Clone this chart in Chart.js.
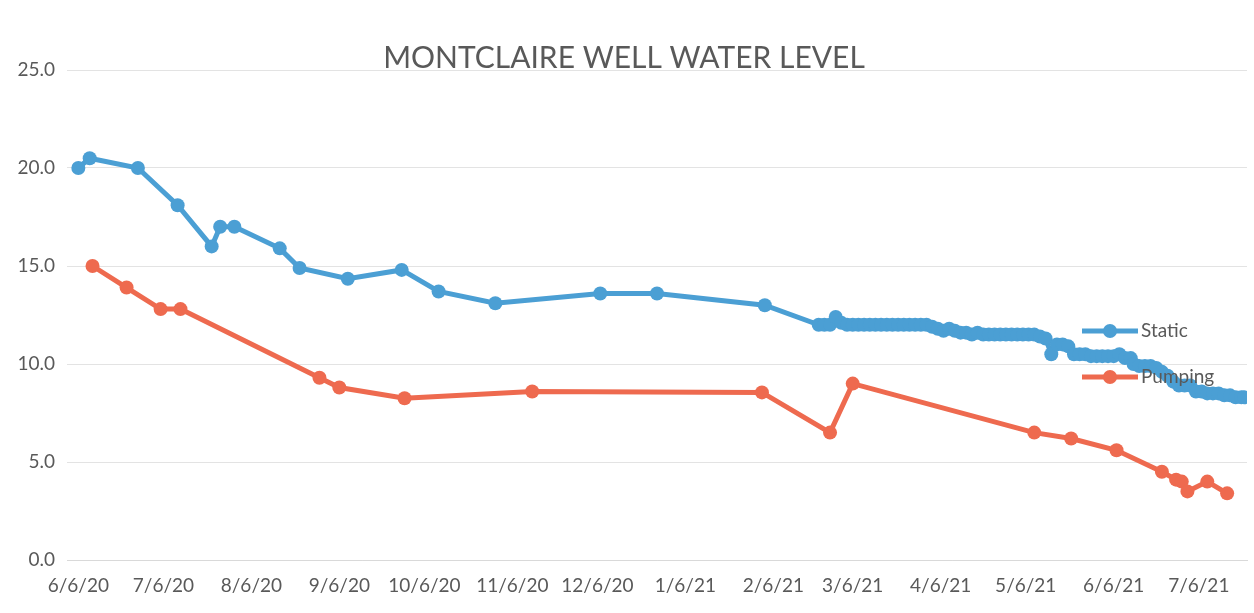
<!DOCTYPE html>
<html>
<head>
<meta charset="utf-8">
<script src="https://cdn.jsdelivr.net/npm/chart.js@4.4.1/dist/chart.umd.min.js"></script>
<style>
  html, body { margin: 0; padding: 0; background: #fff; }
</style>
</head>
<body>
<canvas id="chart" width="1254" height="613"></canvas>
<script>
// readings, dates as m/d/yy
const staticDates = [
  '6/6/20', '6/10/20', '6/27/20', '7/11/20', '7/23/20', '7/26/20', '7/31/20', '8/16/20',
  '8/23/20', '9/9/20', '9/28/20', '10/11/20', '10/31/20', '12/7/20', '12/27/20', '2/3/21',
  '2/22/21', '2/24/21', '2/26/21', '2/28/21', '3/2/21',
  '3/4/21', '3/6/21', '3/8/21', '3/10/21', '3/12/21', '3/14/21', '3/16/21', '3/18/21',
  '3/20/21', '3/22/21', '3/24/21', '3/26/21', '3/28/21', '3/30/21', '4/1/21',
  '4/3/21', '4/5/21', '4/7/21', '4/9/21', '4/11/21', '4/13/21', '4/15/21', '4/17/21', '4/19/21',
  '4/21/21', '4/23/21', '4/25/21', '4/27/21', '4/29/21', '5/1/21', '5/3/21', '5/5/21', '5/7/21', '5/9/21',
  '5/11/21', '5/13/21', '5/15/21', '5/17/21', '5/19/21', '5/21/21', '5/23/21', '5/25/21', '5/27/21',
  '5/29/21', '5/31/21', '6/2/21', '6/4/21', '6/6/21', '6/8/21', '6/10/21', '6/12/21', '6/13/21',
  '6/15/21', '6/17/21', '6/19/21', '6/21/21', '6/23/21', '6/25/21', '6/27/21', '6/29/21', '7/1/21',
  '7/3/21', '7/5/21', '7/7/21', '7/9/21', '7/11/21', '7/13/21', '7/15/21', '7/17/21', '7/19/21',
  '7/21/21', '7/22/21'
];
const staticLevels = [
  20.0, 20.5, 20.0, 18.1, 16.0, 17.0, 17.0, 15.9,
  14.9, 14.35, 14.8, 13.7, 13.1, 13.6, 13.6, 13.0,
  12.0, 12.0, 12.0, 12.4, 12.1,
  12.0, 12.0, 12.0, 12.0, 12.0, 12.0, 12.0, 12.0,
  12.0, 12.0, 12.0, 12.0, 12.0, 12.0, 12.0,
  11.9, 11.8, 11.7, 11.8, 11.7, 11.6, 11.6, 11.5, 11.6,
  11.5, 11.5, 11.5, 11.5, 11.5, 11.5, 11.5, 11.5, 11.5, 11.5,
  11.4, 11.3, 10.5, 11.0, 11.0, 10.9, 10.5, 10.5, 10.5,
  10.4, 10.4, 10.4, 10.4, 10.4, 10.5, 10.3, 10.3, 10.0,
  9.9, 9.9, 9.9, 9.8, 9.6, 9.4, 9.1, 8.9, 8.9,
  8.9, 8.6, 8.6, 8.5, 8.5, 8.5, 8.4, 8.4, 8.3,
  8.3, 8.3
];

const pumpingDates = [
  '6/11/20', '6/23/20', '7/5/20', '7/12/20', '8/30/20', '9/6/20', '9/29/20', '11/13/20',
  '2/2/21', '2/26/21', '3/6/21', '5/9/21', '5/22/21', '6/7/21', '6/23/21', '6/28/21',
  '6/30/21', '7/2/21', '7/9/21', '7/16/21'
];
const pumpingLevels = [
  15.0, 13.9, 12.8, 12.8, 9.3, 8.8, 8.25, 8.6,
  8.55, 6.5, 9.0, 6.5, 6.2, 5.6, 4.5, 4.1,
  4.0, 3.5, 4.0, 3.4
];

const tickDates = ['6/6/20', '7/6/20', '8/6/20', '9/6/20', '10/6/20', '11/6/20', '12/6/20',
  '1/6/21', '2/6/21', '3/6/21', '4/6/21', '5/6/21', '6/6/21', '7/6/21'];

const seriesNames = ['Static', 'Pumping'];
const blue = '#4b9fd4';
const red = '#ee6a4f';

function dayNum(s) {
  const [m, d, y] = s.split('/').map(Number);
  return Date.UTC(2000 + y, m - 1, d) / 86400000;
}

const toPoints = (dates, vals) => dates.map((d, i) => ({ x: dayNum(d), y: vals[i] }));

const fontFam = 'Lato, "Open Sans", sans-serif';
const grey = '#595959';

// Excel style legend sitting on top of the plot
const overlayLegend = {
  id: 'overlayLegend',
  afterDraw(chart) {
    const ctx = chart.ctx;
    const rows = [{ y: 331 }, { y: 377 }];
    ctx.save();
    chart.data.datasets.forEach((ds, i) => {
      const y = rows[i].y;
      ctx.strokeStyle = ds.borderColor;
      ctx.lineWidth = 5;
      ctx.beginPath();
      ctx.moveTo(1082, y);
      ctx.lineTo(1138, y);
      ctx.stroke();
      ctx.fillStyle = ds.backgroundColor;
      ctx.beginPath();
      ctx.arc(1110, y, 7, 0, Math.PI * 2);
      ctx.fill();
      ctx.fillStyle = grey;
      ctx.font = '19px ' + fontFam;
      ctx.textBaseline = 'middle';
      ctx.textAlign = 'left';
      ctx.fillText(ds.label, 1141, y);
    });
    ctx.restore();
  }
};

new Chart(document.getElementById('chart').getContext('2d'), {
  type: 'line',
  data: {
    datasets: [
      {
        label: seriesNames[0],
        data: toPoints(staticDates, staticLevels),
        borderColor: blue,
        backgroundColor: blue,
        borderWidth: 5,
        pointRadius: 7,
        pointBorderWidth: 0,
        tension: 0
      },
      {
        label: seriesNames[1],
        data: toPoints(pumpingDates, pumpingLevels),
        borderColor: red,
        backgroundColor: red,
        borderWidth: 5,
        pointRadius: 7,
        pointBorderWidth: 0,
        tension: 0
      }
    ]
  },
  options: {
    responsive: false,
    animation: false,
    layout: { padding: { left: 0, right: 6, top: 0, bottom: 0 } },
    plugins: {
      legend: { display: false },
      tooltip: { enabled: false },
      title: {
        display: true,
        text: 'MONTCLAIRE WELL WATER LEVEL',
        color: grey,
        font: { family: fontFam, size: 30, weight: 'normal', lineHeight: 0.8 },
        padding: { top: 46, bottom: 0 }
      }
    },
    scales: {
      x: {
        type: 'linear',
        min: dayNum('6/6/20') - 4,
        max: dayNum('6/6/20') + 412,
        afterBuildTicks: (scale) => {
          scale.ticks = tickDates.map(s => ({ value: dayNum(s) }));
        },
        afterFit: (scale) => { scale.height = 53; },
        ticks: {
          autoSkip: false,
          maxRotation: 0,
          padding: 14,
          color: grey,
          font: { family: fontFam, size: 19 },
          callback: (v, i) => tickDates[i]
        },
        grid: { display: false, drawTicks: false },
        border: { display: true, color: '#d9d9d9', width: 1 }
      },
      y: {
        min: 0,
        max: 25,
        afterFit: (scale) => { scale.width = 67; },
        ticks: {
          stepSize: 5,
          padding: 12,
          color: grey,
          font: { family: fontFam, size: 19 },
          callback: (v) => v.toFixed(1)
        },
        grid: { color: '#e3e3e3', lineWidth: 1, drawTicks: false },
        border: { display: false }
      }
    }
  },
  plugins: [overlayLegend]
});
</script>
</body>
</html>
